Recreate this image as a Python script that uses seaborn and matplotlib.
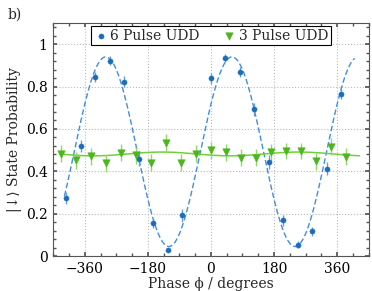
import numpy as np
import pandas as pd
import matplotlib
matplotlib.use("Agg")
import matplotlib.pyplot as plt
import seaborn as sns
from matplotlib.ticker import AutoMinorLocator

# measured points (phase in degrees, probability, error)
phase_6 = [-412.5, -371.25, -330, -288.75, -247.5, -206.25, -165, -123.75, -82.5,
           0, 41.25, 82.5, 123.75, 165, 206.25, 247.5, 288.75, 330, 371.25]
prob_6 = [0.274, 0.52, 0.845, 0.922, 0.823, 0.46, 0.157, 0.03, 0.193,
          0.839, 0.934, 0.869, 0.692, 0.444, 0.168, 0.054, 0.116, 0.413, 0.765]
err_6 = [0.03, 0.03, 0.025, 0.02, 0.025, 0.035, 0.025, 0.01, 0.03,
         0.025, 0.02, 0.025, 0.03, 0.035, 0.025, 0.015, 0.02, 0.03, 0.025]

phase_3 = [-428.6, -385.7, -342.9, -300, -257.1, -214.3, -171.4, -128.6, -85.7, -42.9,
           0, 42.9, 85.7, 128.6, 171.4, 214.3, 257.1, 300, 342.9, 385.7]
prob_3 = [0.484, 0.452, 0.471, 0.437, 0.487, 0.476, 0.44, 0.534, 0.44, 0.484,
          0.5, 0.491, 0.463, 0.463, 0.491, 0.496, 0.496, 0.447, 0.515, 0.468]
err_3 = [0.04] * len(phase_3)

x_ticks = [-360, -180, 0, 180, 360]
x_ticklabels = ["\u2212360", "\u2212180", "0", "180", "360"]
y_ticks = [0, 0.2, 0.4, 0.6, 0.8, 1.0]
y_ticklabels = ["0", "0.2", "0.4", "0.6", "0.8", "1"]

# fit parameters
fit6_offset, fit6_amp, fit6_peak = 0.4925, 0.4475, 60.0
fit3_offset, fit3_amp, fit3_peak, fit3_period = 0.482, 0.009, 250.0, 390.0

sns.set_theme(style="ticks")
plt.rcParams["font.family"] = ["DejaVu Serif", "DejaVu Sans"]

blue = "#1c6db5"
blue_fit = "#3f8fe0"
green = "#4db51e"
green_fit = "#6fd13a"

phi6 = np.linspace(-418, 410, 400)
fit6 = pd.DataFrame({"phase": phi6,
                     "prob": fit6_offset + fit6_amp * np.cos(np.radians(phi6 - fit6_peak))})
phi3 = np.linspace(-432, 424, 400)
fit3 = pd.DataFrame({"phase": phi3,
                     "prob": fit3_offset + fit3_amp * np.cos(2 * np.pi * (phi3 - fit3_peak) / fit3_period)})

fig = plt.figure(figsize=(3.72, 2.91), dpi=100)
ax = fig.add_axes([0.143, 0.12, 0.848, 0.801])

sns.lineplot(data=fit6, x="phase", y="prob", ax=ax, color=blue_fit, lw=1.0,
             linestyle=(0, (4, 2)), legend=False)
sns.lineplot(data=fit3, x="phase", y="prob", ax=ax, color=green_fit, lw=1.1, legend=False)

ax.errorbar(phase_6, prob_6, yerr=err_6, fmt="none", ecolor="#6ba0d6", elinewidth=1.0, capsize=0)
ax.errorbar(phase_3, prob_3, yerr=err_3, fmt="none", ecolor="#8fd86a", elinewidth=1.0, capsize=0)
sns.scatterplot(x=phase_6, y=prob_6, ax=ax, color=blue, marker="o", s=14,
                edgecolor=blue, label="6 Pulse UDD", zorder=4)
sns.scatterplot(x=phase_3, y=prob_3, ax=ax, color=green, marker="v", s=28,
                edgecolor=green, label="3 Pulse UDD", zorder=4)

ax.set_xlim(-450, 450)
ax.set_ylim(0, 1.1)
ax.set_xticks(x_ticks)
ax.set_xticklabels(x_ticklabels)
ax.set_yticks(y_ticks)
ax.set_yticklabels(y_ticklabels)
ax.xaxis.set_minor_locator(AutoMinorLocator(4))
ax.yaxis.set_minor_locator(AutoMinorLocator(5))
ax.tick_params(which="both", direction="in", top=True, right=True, colors="#555555",
               labelcolor="black", labelsize=10)
ax.tick_params(which="major", length=3, pad=4)
ax.tick_params(which="minor", length=2)
ax.grid(True, which="major", linestyle=":", color="#bbbbbb", lw=0.8)
for s in ax.spines.values():
    s.set_color("#555555")
    s.set_linewidth(0.8)

ax.set_xlabel("Phase \u03d5 / degrees", fontsize=10, labelpad=1)
ax.set_ylabel("|\u2193\u27e9 State Probability", fontsize=10, labelpad=3)

leg = ax.legend(loc="upper center", bbox_to_anchor=(0.5, 1.0), ncol=2, fontsize=10,
                frameon=True, fancybox=False, edgecolor="black", framealpha=1,
                handletextpad=0.2, columnspacing=1.6, borderpad=0.2, handlelength=1.0,
                borderaxespad=0.2)
leg.get_frame().set_linewidth(0.8)

fig.text(0.02, 0.935, "b)", fontsize=10)

fig.savefig("out.png", dpi=100)
